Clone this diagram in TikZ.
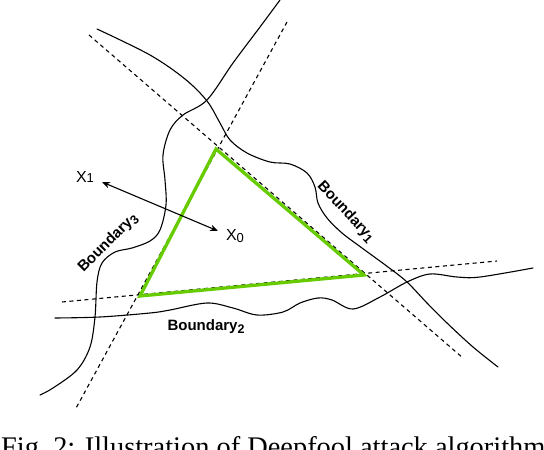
\documentclass[tikz,border=0pt]{standalone}
\usepackage{fontspec}
\setmainfont{Liberation Serif}
\newfontfamily\helv{Liberation Sans}
\usetikzlibrary{arrows.meta}
\definecolor{trigreen}{RGB}{102,204,0}
\begin{document}
\begin{tikzpicture}[x=1pt,y=-1pt,
  bnd/.style={line width=1.1pt, line cap=round, line join=round},
  guide/.style={line width=1.1pt, dash pattern=on 4pt off 3.5pt},
  tri/.style={draw=trigreen, line width=3.3pt, line join=miter},
  blabel/.style={font=\helv\bfseries\fontsize{15}{15}\selectfont, inner sep=0pt},
  xlabel/.style={font=\helv\fontsize{16}{16}\selectfont, inner sep=0pt},
  dbl/.style={line width=1.1pt, {Stealth[length=8pt,width=6.5pt]}-{Stealth[length=8pt,width=6.5pt]}}]
\useasboundingbox (0,0) rectangle (544,450);
\clip (0,0) rectangle (544,450);

% dashed guide lines
\coordinate (d1a) at (89,35);  \coordinate (d1b) at (463,358);
\coordinate (d2a) at (287,22); \coordinate (d2b) at (75,410);
\coordinate (d3a) at (62,302); \coordinate (d3b) at (497,261);
\draw[guide] (d1a) -- (d1b);
\draw[guide] (d2a) -- (d2b);
\draw[guide] (d3a) -- (d3b);

% boundaries
\draw[bnd] plot[smooth, tension=0.55] coordinates {(97,29) (150,55) (185,79) (207,101) (220,123) (230,140) (247,153) (270,162) (290,164) (307,173) (315,187) (318,203) (327,218) (342,233) (362,248) (388,267) (407,282) (427,303) (447,323) (473,347) (498,367)};
\draw[bnd] plot[smooth, tension=0.55] coordinates {(280,0) (260,27) (233,63) (207,100) (183,115) (170,130) (163,155) (165,180) (166,205) (160,230) (150,241) (132,248) (115,252) (102,263) (97,282) (95,317) (90,347) (77,370) (53,388) (40,395)};
\draw[bnd] plot[smooth, tension=0.55] coordinates {(55,318) (100,317) (150,313) (170,310) (207,303) (233,308) (257,315) (283,312) (300,303) (318,298) (332,300) (353,309) (380,297) (407,282) (430,274) (457,277) (480,277) (533,268)};

% triangle
\coordinate (tA) at (216,149);
\coordinate (tB) at (364,275);
\coordinate (tC) at (140,296);
\draw[tri] (tA) -- (tB) -- (tC) -- cycle;

% labels
\node[blabel, rotate=-47] (lb1) at (346,212) {Boundary\raisebox{-3pt}{\fontsize{12.5}{12.5}\selectfont 1}};
\node[blabel] (lb2) at (206,327) {Boundary\raisebox{-3pt}{\fontsize{12.5}{12.5}\selectfont 2}};
\node[blabel, rotate=45] (lb3) at (108,243) {Boundary\raisebox{-3pt}{\fontsize{12.5}{12.5}\selectfont 3}};

\node[xlabel] (x1) at (85,177) {X\fontsize{13}{13}\selectfont 1};
\node[xlabel] (x0) at (235,236) {X\raisebox{-2.5pt}{\fontsize{13}{13}\selectfont 0}};
\coordinate (a1) at (102,182);
\coordinate (a0) at (218,231);
\draw[dbl] (a1) -- (a0);

% caption
\node[anchor=base west, inner sep=0pt, font=\fontsize{28.4}{30}\selectfont] (cap) at (1,456) {Fig.~2: Illustration of Deepfool attack algorithm};
\end{tikzpicture}
\end{document}
